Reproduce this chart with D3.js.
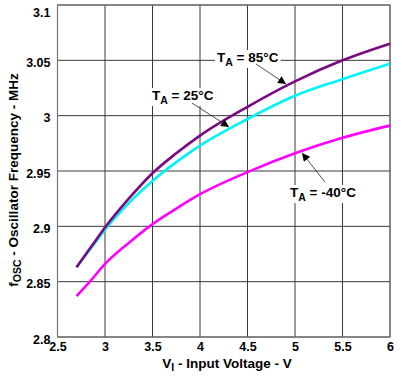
<!DOCTYPE html>
<html><head><meta charset="utf-8">
<script src="https://cdn.jsdelivr.net/npm/d3@7"></script>
<style>body{margin:0;background:#fff}svg{display:block}text{font-family:"Liberation Sans",Arial,sans-serif;font-weight:bold;fill:#000}</style>
</head><body><svg id="c" width="405" height="378"></svg>
<script>
const voltages = [2.7, 2.85, 3, 3.25, 3.5, 3.75, 4, 4.5, 5, 5.5, 6];
const freq85  = [2.863, 2.881, 2.899, 2.925, 2.948, 2.966, 2.982, 3.008, 3.031, 3.050, 3.065];
const freq25  = [2.863, 2.880, 2.897, 2.921, 2.941, 2.958, 2.973, 2.997, 3.018, 3.033, 3.047];
const freqM40 = [2.837, 2.851, 2.866, 2.885, 2.902, 2.916, 2.929, 2.949, 2.966, 2.980, 2.991];
const xTicks = [2.5, 3, 3.5, 4, 4.5, 5, 5.5, 6];
const yTicks = [2.8, 2.85, 2.9, 2.95, 3, 3.05, 3.1];
const seriesNames = ["85°C", "25°C", "-40°C"];

const svg = d3.select("#c");
const L = 57.5, R = 390, T = 5, B = 337;
const x = d3.scaleLinear().domain([2.5, 6]).range([L, R]);
const y = d3.scaleLinear().domain([2.8, 3.1]).range([B, T]);
const FONT = '"Liberation Sans",Arial,sans-serif';

// grid
const g = svg.append("g");
g.selectAll(".vg").data(xTicks).join("line")
  .attr("x1", d => x(d)).attr("x2", d => x(d)).attr("y1", T).attr("y2", B)
  .attr("stroke", "#3a3a3a").attr("stroke-width", 1);
g.selectAll(".hg").data(yTicks).join("line")
  .attr("y1", d => y(d)).attr("y2", d => y(d)).attr("x1", L).attr("x2", R)
  .attr("stroke", "#3a3a3a").attr("stroke-width", 1);
g.append("rect").attr("x", L).attr("y", T).attr("width", R - L).attr("height", B - T)
  .attr("fill", "none").attr("stroke", "#777").attr("stroke-width", 1.2);

// axes tick labels via d3 axis
const xAxis = svg.append("g").attr("transform", `translate(0,${B})`)
  .call(d3.axisBottom(x).tickValues(xTicks).tickSize(0).tickPadding(5.5).tickFormat(d3.format("")));
xAxis.select(".domain").remove();
xAxis.selectAll("text").attr("font-size", 12.5).attr("font-family", FONT).attr("font-weight", "bold").attr("fill", "#000");

const yAxis = svg.append("g").attr("transform", `translate(${L},0)`)
  .call(d3.axisLeft(y).tickValues(yTicks).tickSize(0).tickPadding(7).tickFormat(d3.format("")));
yAxis.select(".domain").remove();
yAxis.selectAll("text").attr("font-size", 12.5).attr("font-family", FONT).attr("font-weight", "bold").attr("fill", "#000")
  .attr("dy", d => d === 3.1 ? "0.95em" : "0.5em");

// curves
const line = d3.line().x((d, i) => x(voltages[i])).y(d => y(d)).curve(d3.curveMonotoneX);
const colors = ["#7a0a80", "#00f4f4", "#ff00ff"];
[[freqM40, colors[2]], [freq25, colors[1]], [freq85, colors[0]]].forEach(([s, c]) => {
  svg.append("path").attr("d", line(s)).attr("fill", "none")
    .attr("stroke", c).attr("stroke-width", 2.6);
});

// arrow marker
const defs = svg.append("defs");
defs.append("marker").attr("id", "ah").attr("viewBox", "0 0 10 10").attr("refX", 10).attr("refY", 5)
  .attr("markerWidth", 11).attr("markerHeight", 8).attr("markerUnits", "userSpaceOnUse").attr("orient", "auto")
  .append("path").attr("d", "M0,0L10,5L0,10Z").attr("fill", "#000");

function label(name, tx, ty, ax1, ay1, ax2, ay2) {
  const gl = svg.append("g");
  svg.append("line").attr("x1", ax1).attr("y1", ay1).attr("x2", ax2).attr("y2", ay2)
    .attr("stroke", "#222").attr("stroke-width", 0.8).attr("marker-end", "url(#ah)");
  const t = gl.append("text").attr("x", tx).attr("y", ty).attr("font-size", 13.5);
  t.append("tspan").text("T");
  t.append("tspan").text("A").attr("font-size", 10.5).attr("dy", 4);
  t.append("tspan").text(" = " + name).attr("dy", -4);
  const bb = t.node().getBBox();
  gl.insert("rect", "text").attr("x", bb.x - 2).attr("y", bb.y).attr("width", bb.width + 4).attr("height", bb.height)
    .attr("fill", "#fff");
}
label(seriesNames[0], 217, 62, 256, 64, 286, 84);
label(seriesNames[1], 152, 100, 192, 103, 229, 127);
label(seriesNames[2], 290, 197, 325, 182, 302, 153);

// axis titles
const xt = svg.append("text").attr("x", 227).attr("y", 367.5).attr("text-anchor", "middle").attr("font-size", 13.5);
xt.append("tspan").text("V");
xt.append("tspan").text("I").attr("font-size", 10.5).attr("dy", 3);
xt.append("tspan").text(" - Input Voltage - V").attr("dy", -3);

const yt = svg.append("text").attr("transform", "translate(18,180) rotate(-90)").attr("text-anchor", "middle").attr("font-size", 13.5);
yt.append("tspan").text("f");
yt.append("tspan").text("OSC").attr("font-size", 10.5).attr("dy", 3);
yt.append("tspan").text(" - Oscillator Frequency - MHz").attr("dy", -3);
</script></body></html>
